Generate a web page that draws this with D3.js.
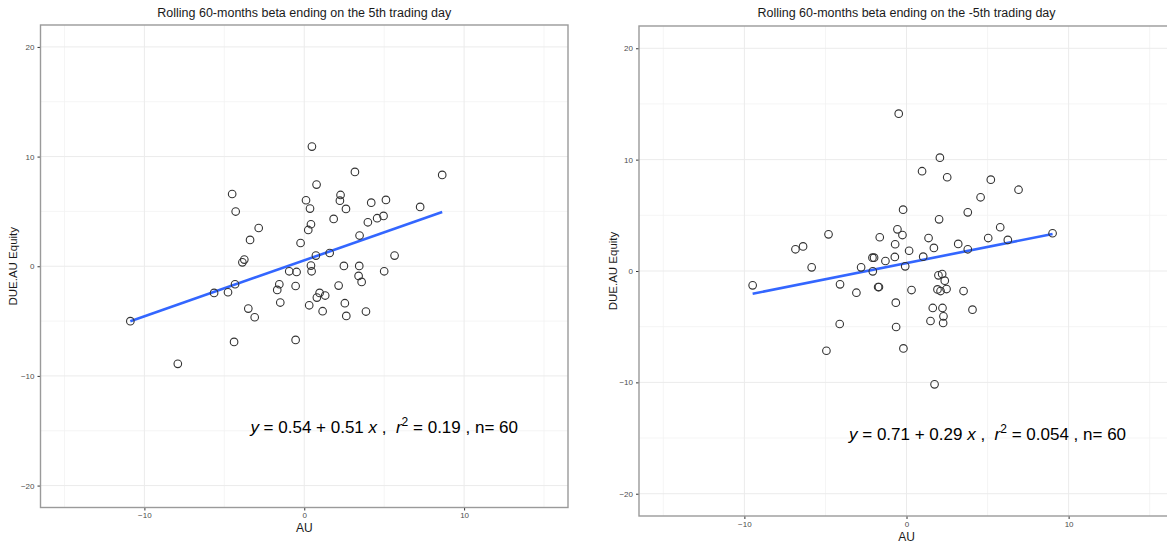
<!DOCTYPE html>
<html>
<head>
<meta charset="utf-8">
<script src="https://cdn.jsdelivr.net/npm/d3@7"></script>
<style>
  body { margin: 0; background: #fff; }
  svg { display: block; font-family: "Liberation Sans", Arial, sans-serif; }
</style>
</head>
<body>
<svg id="chart" width="1167" height="543"></svg>
<script>
// left panel: 5th trading day
const leftX = [-4.51, -4.29, -2.85, -3.39, -3.75, -3.87, -0.23, -0.94, -0.48, -0.54,
  -1.56, -1.69, -1.50, -4.33, -4.77, -5.64, -10.88, -3.50, -3.10, -4.39,
  -0.54, -7.91, 0.48, 3.17, 8.63, 0.77, 2.27, 2.23, 0.11, 0.36,
  2.61, 4.19, 5.11, 7.25, 1.84, 3.98, 4.56, 4.96, 0.42, 0.25,
  3.46, 0.73, 1.59, 5.65, 0.42, 0.46, 2.48, 3.44, 5.00, 3.40,
  3.59, 2.15, 0.96, 0.79, 1.31, 0.31, 2.54, 1.15, 2.63, 3.86];
const leftY = [6.59, 4.99, 3.49, 2.40, 0.61, 0.36, 2.12, -0.46, -0.52, -1.80,
  -1.64, -2.16, -3.31, -1.64, -2.37, -2.43, -5.01, -3.86, -4.65, -6.90,
  -6.72, -8.90, 10.91, 8.60, 8.33, 7.45, 6.50, 5.98, 6.02, 5.26,
  5.23, 5.80, 6.05, 5.41, 4.32, 4.01, 4.38, 4.59, 3.83, 3.31,
  2.80, 0.97, 1.21, 0.97, 0.06, -0.46, 0.03, 0.03, -0.46, -0.88,
  -1.43, -1.76, -2.43, -2.86, -2.67, -3.56, -3.37, -4.10, -4.53, -4.13];

// right panel: -5th trading day
const rightX = [-9.49, -0.48, 2.06, 0.96, 2.51, 5.20, 4.57, 3.78, -0.21, 2.01,
  -4.81, -6.38, -6.85, -0.56, -0.25, -1.65, 1.36, 5.04, -0.70, 1.69,
  3.19, 3.78, 0.16, -5.85, -2.10, -2.00, -1.30, -0.72, 1.03, -2.80,
  -2.08, -0.08, -4.10, -3.09, -1.75, -1.70, 0.31, 1.97, 2.20, 2.36,
  1.91, 2.10, 2.47, 3.52, 4.07, -0.66, 1.62, 2.22, 2.28, 1.48,
  2.26, -4.12, -0.64, -4.94, -0.19, 1.73, 6.91, 5.78, 6.25, 9.01];
const rightY = [-1.29, 14.13, 10.18, 8.96, 8.42, 8.20, 6.62, 5.27, 5.51, 4.64,
  3.29, 2.21, 1.95, 3.74, 3.23, 3.03, 2.96, 2.96, 2.40, 2.07,
  2.43, 1.95, 1.82, 0.33, 1.20, 1.20, 0.90, 1.26, 1.29, 0.33,
  -0.03, 0.42, -1.20, -1.95, -1.44, -1.44, -1.71, -0.39, -0.27, -0.87,
  -1.65, -1.80, -1.62, -1.80, -3.47, -2.84, -3.32, -3.32, -4.07, -4.49,
  -4.67, -4.76, -5.03, -7.16, -6.95, -10.18, 7.30, 3.93, 2.79, 3.39];

const titles = ["Rolling 60-months beta ending on the 5th trading day",
                "Rolling 60-months beta ending on the -5th trading day"];
const intercepts = [0.54, 0.71];
const slopes = [0.51, 0.29];
const r2Labels = ["0.19", "0.054"];
const nLabels = ["60", "60"];

const xTicks = [-10, 0, 10];
const yTicks = [-20, -10, 0, 10, 20];
const xMinor = [-15, -5, 5, 15];
const yMinor = [-15, -5, 5, 15];

const svg = d3.select("#chart");

// pixel frames of the two panels
const panels = [
  { x: leftX, y: leftY, left: 40.5, right: 568, top: 25, bottom: 507.5, ylabX: 13, xlabY: 532 },
  { x: rightX, y: rightY, left: 639, right: 1174, top: 26, bottom: 516, ylabX: 613, xlabY: 541 }
];

panels.forEach((p, i) => {
  const xScale = d3.scaleLinear().domain([-16.5, 16.5]).range([p.left, p.right]);
  const yScale = d3.scaleLinear().domain([-22, 22]).range([p.bottom, p.top]);
  const g = svg.append("g");

  // grid
  g.selectAll(".xminor").data(xMinor).enter().append("line")
    .attr("x1", d => xScale(d)).attr("x2", d => xScale(d))
    .attr("y1", p.top).attr("y2", p.bottom)
    .attr("stroke", "#f2f2f2").attr("stroke-width", 0.8);
  g.selectAll(".yminor").data(yMinor).enter().append("line")
    .attr("y1", d => yScale(d)).attr("y2", d => yScale(d))
    .attr("x1", p.left).attr("x2", p.right)
    .attr("stroke", "#f2f2f2").attr("stroke-width", 0.8);
  g.selectAll(".xmajor").data(xTicks).enter().append("line")
    .attr("x1", d => xScale(d)).attr("x2", d => xScale(d))
    .attr("y1", p.top).attr("y2", p.bottom)
    .attr("stroke", "#ebebeb").attr("stroke-width", 1);
  g.selectAll(".ymajor").data(yTicks).enter().append("line")
    .attr("y1", d => yScale(d)).attr("y2", d => yScale(d))
    .attr("x1", p.left).attr("x2", p.right)
    .attr("stroke", "#ebebeb").attr("stroke-width", 1);

  // axes
  const xAxis = g.append("g")
    .attr("transform", `translate(0,${p.bottom})`)
    .call(d3.axisBottom(xScale).tickValues(xTicks).tickSize(3).tickPadding(2));
  const yAxis = g.append("g")
    .attr("transform", `translate(${p.left},0)`)
    .call(d3.axisLeft(yScale).tickValues(yTicks).tickSize(3).tickPadding(3));
  [xAxis, yAxis].forEach(a => {
    a.select(".domain").remove();
    a.selectAll(".tick line").attr("stroke", "#333");
    a.selectAll(".tick text").attr("fill", "#4d4d4d")
      .style("font-size", "8px").style("font-family", "Liberation Sans, Arial, sans-serif");
  });

  // panel border
  g.append("rect")
    .attr("x", p.left).attr("y", p.top)
    .attr("width", p.right - p.left).attr("height", p.bottom - p.top)
    .attr("fill", "none").attr("stroke", "#9a9a9a").attr("stroke-width", 1.4);

  // regression line over data range
  const [x0, x1] = d3.extent(p.x);
  const fit = x => intercepts[i] + slopes[i] * x;
  g.append("line")
    .attr("x1", xScale(x0)).attr("y1", yScale(fit(x0)))
    .attr("x2", xScale(x1)).attr("y2", yScale(fit(x1)))
    .attr("stroke", "#3366FF").attr("stroke-width", 2.6);

  // points
  g.selectAll("circle").data(p.x.map((d, k) => [d, p.y[k]])).enter().append("circle")
    .attr("cx", d => xScale(d[0])).attr("cy", d => yScale(d[1]))
    .attr("r", 3.8)
    .attr("fill", "none").attr("stroke", "#333").attr("stroke-width", 1.1);

  // equation
  const eq = g.append("text")
    .attr("x", xScale(5)).attr("y", yScale(-15.2))
    .attr("text-anchor", "middle")
    .attr("xml:space", "preserve")
    .style("white-space", "pre")
    .style("font-size", "17px").attr("fill", "#000");
  eq.append("tspan").attr("font-style", "italic").text("y");
  eq.append("tspan").text(` = ${intercepts[i].toFixed(2)} + ${slopes[i].toFixed(2)} `);
  eq.append("tspan").attr("font-style", "italic").text("x");
  eq.append("tspan").text(" ,  ");
  eq.append("tspan").attr("font-style", "italic").text("r");
  eq.append("tspan").attr("dy", -7).style("font-size", "12px").text("2");
  eq.append("tspan").attr("dy", 7).text(` = ${r2Labels[i]} , n= ${nLabels[i]}`);

  // titles
  g.append("text")
    .attr("x", xScale(0))
    .attr("y", 17)
    .attr("text-anchor", "middle")
    .style("font-size", "12.5px").attr("fill", "#1a1a1a")
    .text(titles[i]);

  g.append("text")
    .attr("x", xScale(0)).attr("y", p.xlabY)
    .attr("text-anchor", "middle")
    .style("font-size", "12px").attr("fill", "#1a1a1a")
    .text("AU");

  g.append("text")
    .attr("transform", `translate(${p.ylabX},${yScale(0)}) rotate(-90)`)
    .attr("text-anchor", "middle")
    .attr("dy", "0.35em")
    .style("font-size", "11.5px").attr("fill", "#1a1a1a")
    .text("DUE.AU Equity");
});
</script>
</body>
</html>
